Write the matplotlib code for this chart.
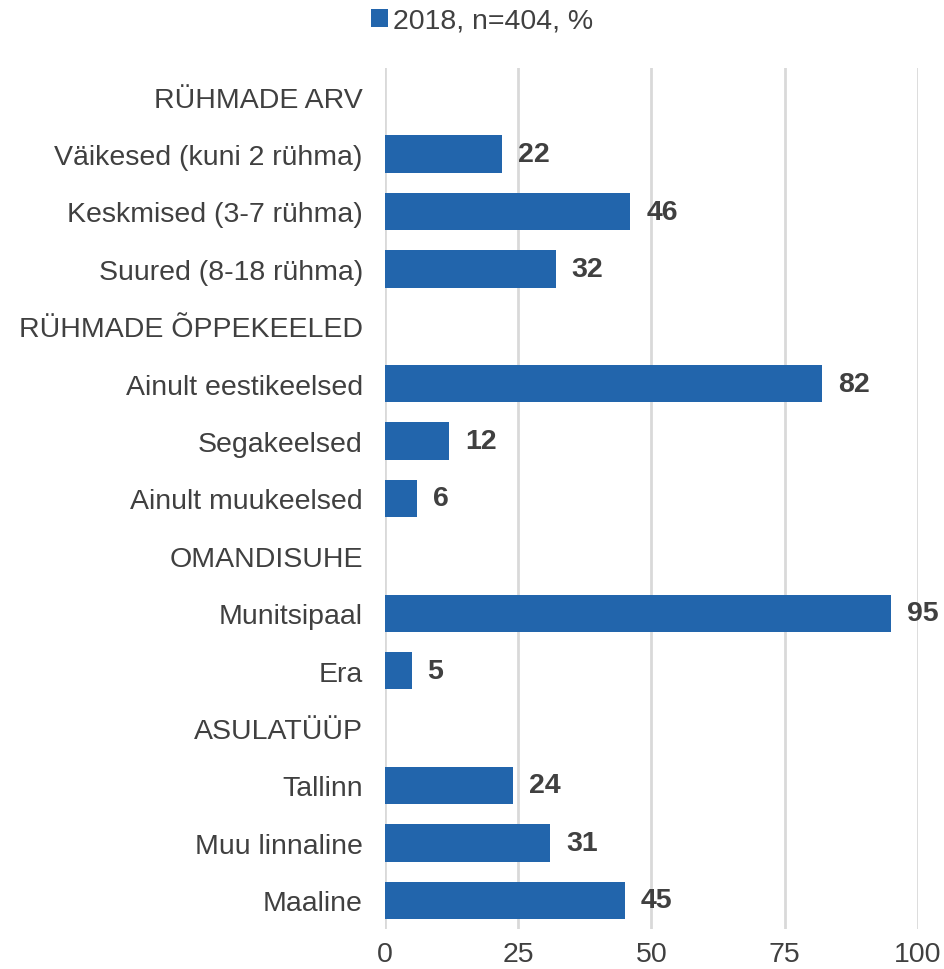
import numpy as np
import matplotlib.pyplot as plt

plt.rcParams['font.family'] = ['Liberation Sans', 'DejaVu Sans']

labels = ["RÜHMADE ARV", "Väikesed (kuni 2 rühma)", "Keskmised (3-7 rühma)", "Suured (8-18 rühma)",
          "RÜHMADE ÕPPEKEELED", "Ainult eestikeelsed", "Segakeelsed", "Ainult muukeelsed",
          "OMANDISUHE", "Munitsipaal", "Era",
          "ASULATÜÜP", "Tallinn", "Muu linnaline", "Maaline"]
values = [None, 22, 46, 32, None, 82, 12, 6, None, 95, 5, None, 24, 31, 45]
series_name = "2018, n=404, %"

bar_color = "#2265ac"
text_color = "#404040"
fs = 20.5

fig = plt.figure(figsize=(9.45, 9.7), dpi=100)
ax = fig.add_axes([385 / 945, 1 - 930 / 970, (918 - 385) / 945, (930 - 69) / 970])

y = np.arange(len(labels))
vals = np.array([np.nan if v is None else v for v in values], dtype=float)
ax.barh(y, np.nan_to_num(vals), height=0.65, color=bar_color, label=series_name, zorder=3)

for yi, v in zip(y, values):
    if v is not None:
        ax.text(v + 3.0, yi, str(v), va='center', ha='left', fontsize=fs,
                fontweight='bold', color=text_color)

ax.set_ylim(len(labels) - 0.5, -0.5)
ax.set_xlim(0, 100)
ax.set_xticks([0, 25, 50, 75, 100])
ax.set_yticks(y)
ax.set_yticklabels(labels)
ax.tick_params(axis='both', length=0, labelsize=fs, labelcolor=text_color)
ax.tick_params(axis='y', pad=16)
ax.tick_params(axis='x', pad=9)
ax.grid(axis='x', color='#d9d9d9', linewidth=2, zorder=0)
for s in ax.spines.values():
    s.set_visible(False)

leg = fig.legend(loc='center', bbox_to_anchor=(482 / 945, 1 - 22 / 970), frameon=False,
                 fontsize=fs, handlelength=0.6, handleheight=0.6, handletextpad=0.2)
for t in leg.get_texts():
    t.set_color(text_color)

fig.savefig("out.png", dpi=100)
